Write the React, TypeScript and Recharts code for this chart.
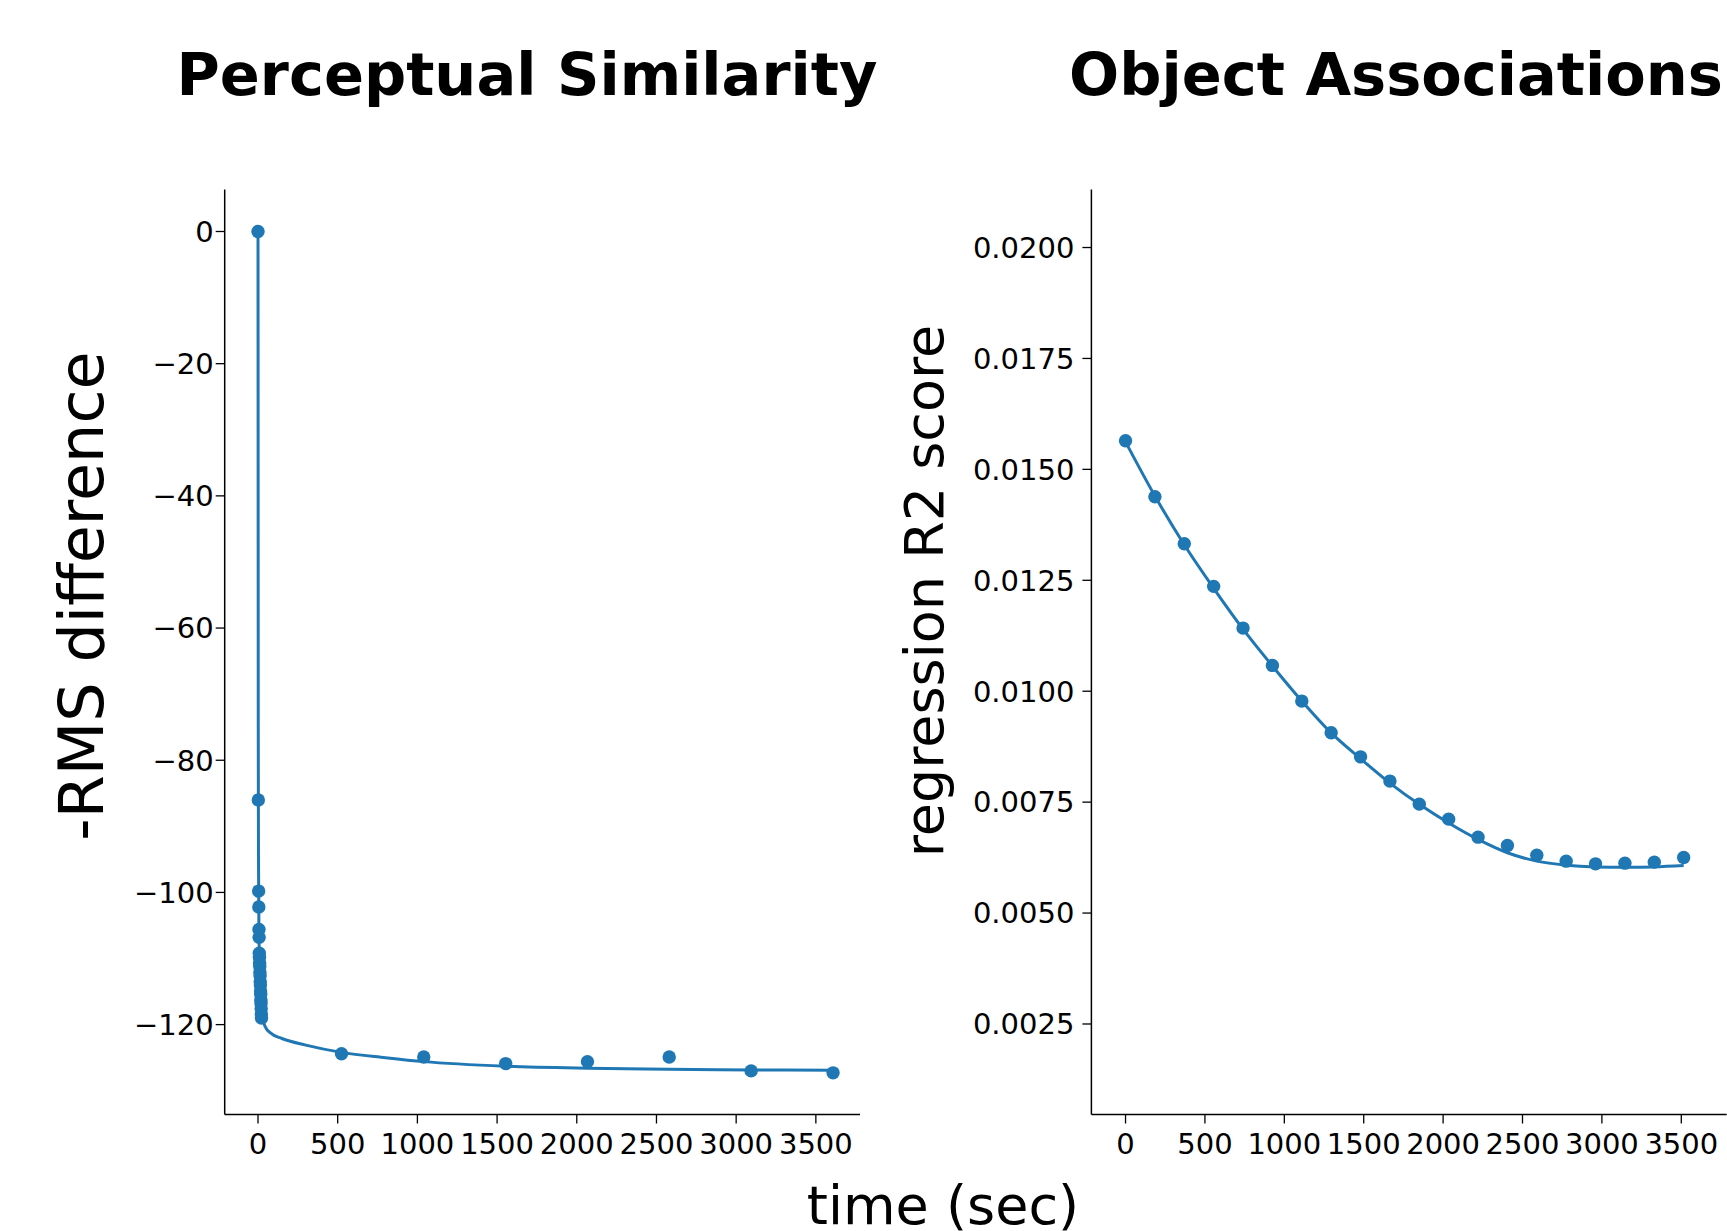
import { ComposedChart, Line, Scatter, XAxis, YAxis } from "recharts";

const BLUE = "#1f77b4";
const FONT = "DejaVu Sans";

// Perceptual Similarity: measured points (sec, -RMS difference)
const psTimes = [0, 2, 4, 5, 6, 7, 8, 9, 10, 11, 12, 13, 14, 15, 16, 17, 18, 19, 20, 21, 22, 524, 1040, 1554, 2067, 2580, 3094, 3608];
const psValues = [
  0, -86.0, -99.8, -102.2, -105.6, -106.8, -109.2, -109.8, -110.7, -111.2, -112.1, -112.6, -113.5, -114.0,
  -114.9, -115.4, -116.3, -116.8, -117.6, -118.4, -119.0, -124.4, -124.9, -125.9, -125.6, -124.9, -127.0, -127.3,
];
// fitted curve
const psFitTimes = [0, 1.5, 3, 6, 12, 25, 45, 80, 150, 300, 524, 800, 1040, 1554, 2067, 2580, 3094, 3608];
const psFitValues = [0, -75, -95, -106, -113, -118.5, -120.3, -121.3, -122.1, -123.1, -124.2, -125.0, -125.6, -126.3, -126.6, -126.75, -126.85, -126.9];
const psTicks = [0, -20, -40, -60, -80, -100, -120];

// Object Associations: regression R2 score
const oaTimes = [0, 185, 370, 555, 740, 925, 1110, 1295, 1480, 1665, 1850, 2035, 2220, 2405, 2590, 2775, 2960, 3145, 3330, 3515];
const oaValues = [
  0.015645, 0.014382, 0.013323, 0.012363, 0.011423, 0.010582, 0.009777, 0.009063, 0.008521, 0.007974,
  0.007455, 0.007117, 0.006711, 0.006524, 0.006305, 0.00617, 0.006109, 0.006125, 0.006148, 0.006253,
];
const oaFitValues = [
  0.01562, 0.0144, 0.0133, 0.01232, 0.0114, 0.01057, 0.00978, 0.00906, 0.00848, 0.00793,
  0.00745, 0.00703, 0.00666, 0.00636, 0.00617, 0.00608, 0.00604, 0.00603, 0.00604, 0.00607,
];
const oaTicks = [0.0025, 0.005, 0.0075, 0.01, 0.0125, 0.015, 0.0175, 0.02];

const timeTicks = [0, 500, 1000, 1500, 2000, 2500, 3000, 3500];

const psPoints = psTimes.map((t, i) => ({ t, v: psValues[i] }));
const psFit = psFitTimes.map((t, i) => ({ t, v: psFitValues[i] }));
const oaPoints = oaTimes.map((t, i) => ({ t, v: oaValues[i] }));
const oaFit = oaTimes.map((t, i) => ({ t, v: oaFitValues[i] }));

const tickStyle = { fill: "#000", fontSize: 29, fontFamily: FONT };
const axisLine = { stroke: "#000", strokeWidth: 1.5 };
const tickLine = { stroke: "#000", strokeWidth: 1.3 };

const Dot = (props: any) => <circle cx={props.cx} cy={props.cy} r={6.7} fill={BLUE} />;

const minus = (v: number) => (v < 0 ? "\u2212" + Math.abs(v) : String(v));

function Panel({ points, fit, xDomain, yDomain, yTicks, yFormat, yMargin, width, margin }: any) {
  return (
    <ComposedChart width={width} height={1231} margin={margin}>
      <XAxis
        type="number"
        dataKey="t"
        domain={xDomain}
        ticks={timeTicks}
        allowDataOverflow
        height={60}
        tickSize={9}
        tickMargin={10}
        tick={tickStyle}
        axisLine={axisLine}
        tickLine={tickLine}
      />
      <YAxis
        type="number"
        dataKey="v"
        domain={yDomain}
        ticks={yTicks}
        allowDataOverflow
        width={100}
        tickSize={9}
        tickMargin={yMargin}
        tick={tickStyle}
        tickFormatter={yFormat}
        axisLine={axisLine}
        tickLine={tickLine}
      />
      <Line data={fit} dataKey="v" type="monotone" stroke={BLUE} strokeWidth={3} dot={false} isAnimationActive={false} />
      <Scatter data={points} dataKey="v" fill={BLUE} shape={Dot} isAnimationActive={false} />
    </ComposedChart>
  );
}

export default function App() {
  return (
    <div style={{ position: "fixed", left: 0, top: 0, width: 1727, height: 1231, overflow: "hidden", background: "#fff" }}>
      <div style={{ position: "absolute", left: 0, top: 0 }}>
        <Panel
          points={psPoints}
          fit={psFit}
          xDomain={[-209, 3777]}
          yDomain={[-133.6, 6.37]}
          yTicks={psTicks}
          yFormat={minus}
          yMargin={2}
          width={880}
          margin={{ top: 189.4, right: 20, bottom: 56.5, left: 124.7 }}
        />
      </div>
      <div style={{ position: "absolute", left: 960, top: 0 }}>
        <Panel
          points={oaPoints}
          fit={oaFit}
          xDomain={[-215, 3786]}
          yDomain={[0.00046, 0.02131]}
          yTicks={oaTicks}
          yFormat={(v: number) => v.toFixed(4)}
          yMargin={8}
          width={800}
          margin={{ top: 189.4, right: 33.3, bottom: 56.5, left: 31.4 }}
        />
      </div>
      <svg width={1727} height={1231} style={{ position: "absolute", left: 0, top: 0, pointerEvents: "none" }} fontFamily={FONT}>
        <text x={527} y={95} textAnchor="middle" fontSize={59} fontWeight="bold">Perceptual Similarity</text>
        <text x={1396} y={95} textAnchor="middle" fontSize={59} fontWeight="bold">Object Associations</text>
        <text transform="translate(103,596) rotate(-90)" textAnchor="middle" fontSize={62}>-RMS difference</text>
        <text transform="translate(943,591) rotate(-90)" textAnchor="middle" fontSize={54}>regression R2 score</text>
        <text x={943} y={1224} textAnchor="middle" fontSize={54}>time (sec)</text>
      </svg>
    </div>
  );
}
